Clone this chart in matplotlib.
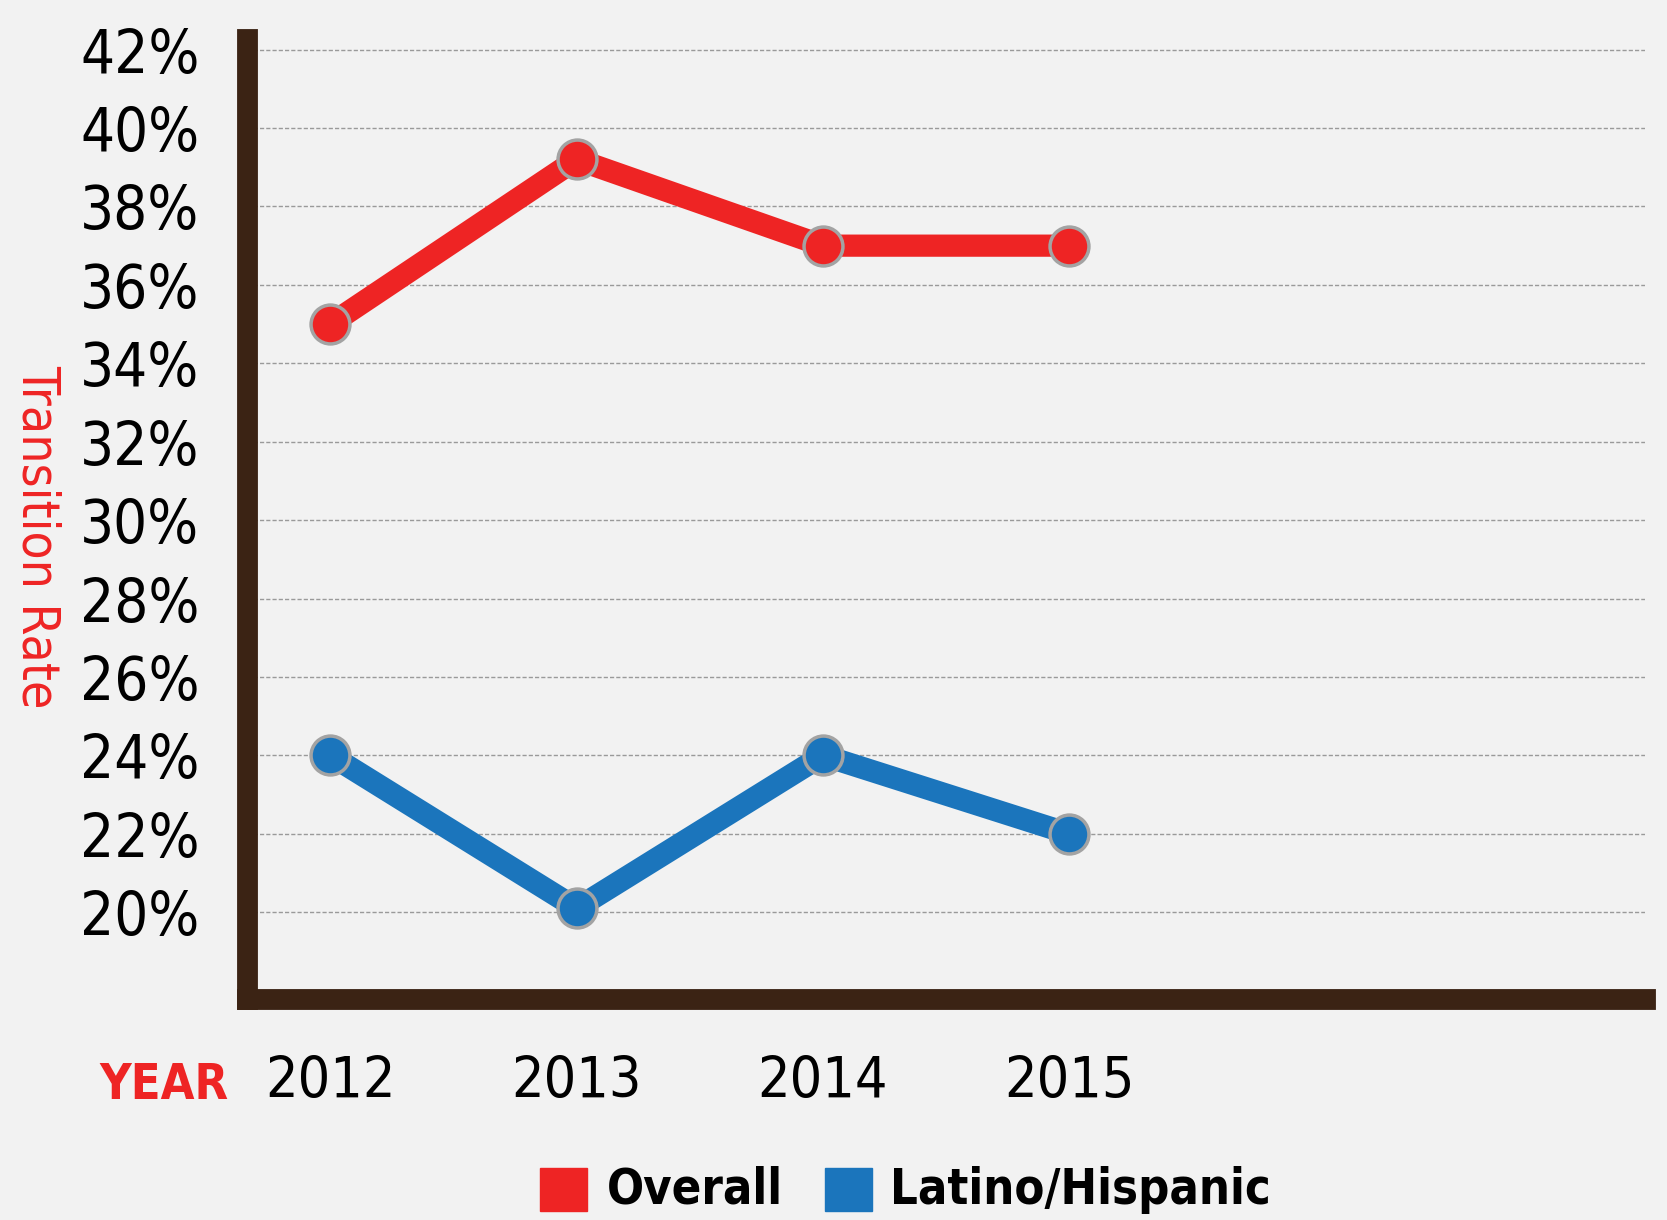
import matplotlib
matplotlib.use("Agg")
import matplotlib.pyplot as plt
from matplotlib.patches import Rectangle

# data
years = [2012, 2013, 2014, 2015]
overall = [35.0, 39.2, 37.0, 37.0]
latino = [24.0, 20.1, 24.0, 22.0]
y_ticks = list(range(20, 43, 2))
series_names = ["Overall", "Latino/Hispanic"]

RED = "#ee2424"
BLUE = "#1b75bc"
BROWN = "#3b2314"
BG = "#f2f2f2"

plt.rcParams["font.family"] = ["DejaVu Sans"]
plt.rcParams["font.stretch"] = "condensed"

fig = plt.figure(figsize=(16.67, 12.2), dpi=100, facecolor=BG)
ax = fig.add_axes([0.148, 0.181, 0.839, 0.787])
ax.set_facecolor(BG)

for vals, col in [(overall, RED), (latino, BLUE)]:
    ax.plot(years, vals, color=col, linewidth=16, solid_capstyle="round",
            marker="o", markersize=28, markerfacecolor=col,
            markeredgecolor="#a3a3a3", markeredgewidth=2.5, zorder=3)

ax.set_xlim(2011.66, 2017.34)
ax.set_ylim(17.78, 42.27)

ax.set_yticks(y_ticks)
ax.set_yticklabels([f"{v}%" for v in y_ticks])
ax.set_xticks(years)
ax.set_xticklabels([str(y) for y in years])
ax.tick_params(axis="y", length=0, pad=34, labelsize=43)
ax.tick_params(axis="x", length=0, pad=40, labelsize=41)

ax.grid(axis="y", linestyle=(0, (3, 1.5)), color="#9a9a9a", linewidth=1.0)
ax.set_axisbelow(True)

for side in ["top", "right"]:
    ax.spines[side].set_visible(False)
for side in ["left", "bottom"]:
    ax.spines[side].set_color(BROWN)
    ax.spines[side].set_linewidth(15)
    ax.spines[side].set_capstyle("projecting")

fig.text(0.022, 0.56, "Transition Rate", color=RED, fontsize=37,
         rotation=270, ha="center", va="center")
fig.text(0.137, 0.111, "YEAR", color=RED, fontsize=35, fontweight="bold",
         ha="right", va="center")

# legend row
for x0, tx, col, name in [(0.324, 0.364, RED, series_names[0]),
                          (0.495, 0.534, BLUE, series_names[1])]:
    fig.patches.append(Rectangle((x0, 0.007), 0.028, 0.036, color=col,
                                 transform=fig.transFigure, figure=fig))
    fig.text(tx, 0.025, name, fontsize=35, fontweight="bold",
             ha="left", va="center", color="black")

fig.savefig("out.png", dpi=100, facecolor=BG)
